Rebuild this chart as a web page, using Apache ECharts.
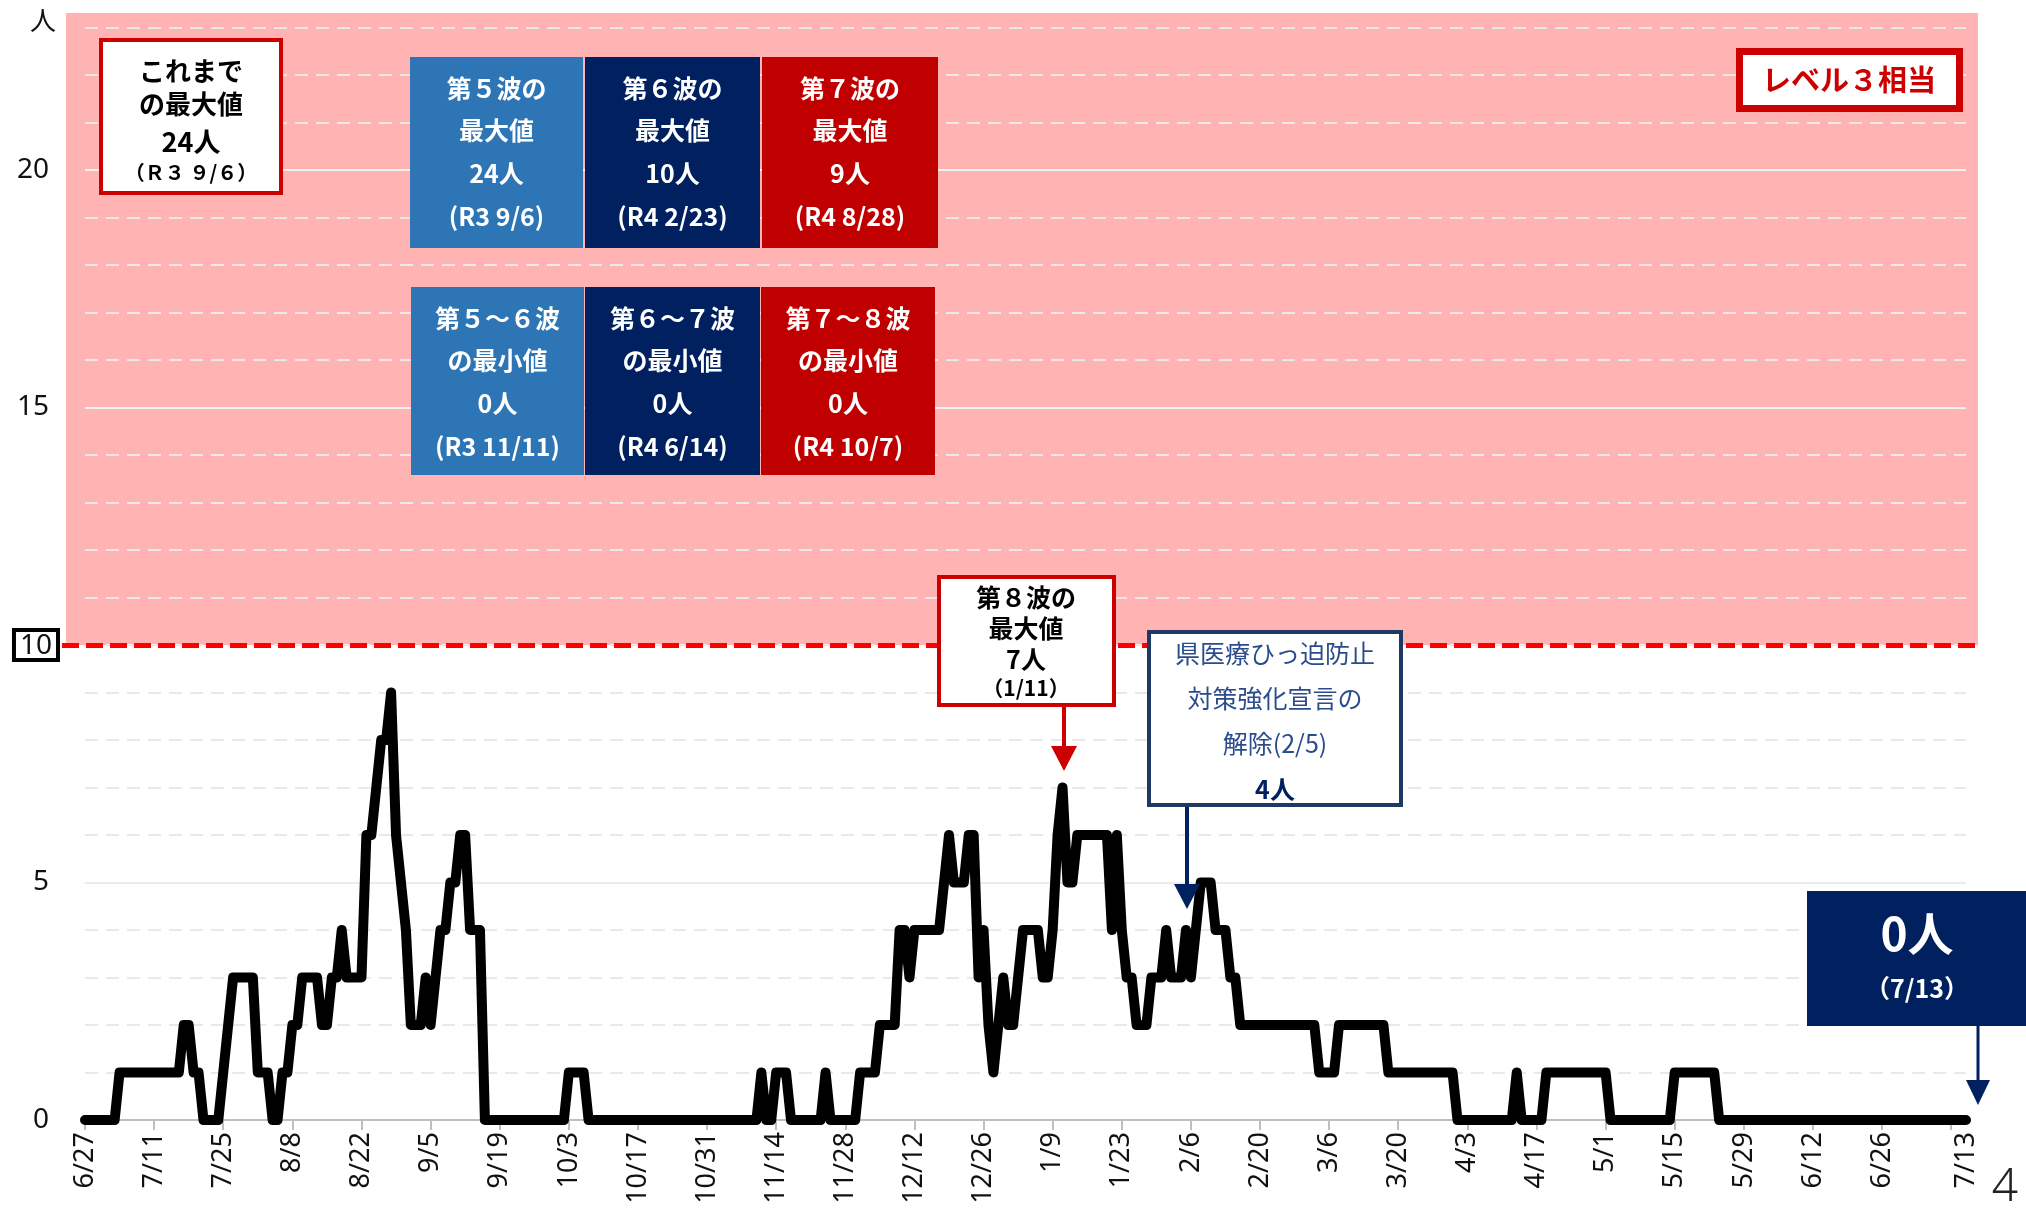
<!DOCTYPE html>
<html>
<head>
<meta charset="utf-8">
<script src="https://cdn.jsdelivr.net/npm/echarts@6/dist/echarts.min.js"></script>
<style>
html,body{margin:0;padding:0;background:#fff;}
#main{width:2026px;height:1220px;}
</style>
</head>
<body>
<div id="main"></div>
<script>
// ---- data ----
const startDate = '2022-06-27';   // first day on the axis
const dayCount = 382;             // 2022-06-27 .. 2023-07-13

// daily values, two weeks per row
const dailyCounts = [
  0,0,0,0,0,0,0,1,1,1,1,1,1,1,
  1,1,1,1,1,1,2,2,1,1,0,0,0,0,
  1,2,3,3,3,3,3,1,1,1,0,0,1,1,
  2,2,3,3,3,3,2,2,3,3,4,3,3,3,
  3,6,6,7,8,8,9,6,5,4,2,2,2,3,
  2,3,4,4,5,5,6,6,4,4,4,0,0,0,
  0,0,0,0,0,0,0,0,0,0,0,0,0,0,
  1,1,1,1,0,0,0,0,0,0,0,0,0,0,
  0,0,0,0,0,0,0,0,0,0,0,0,0,0,
  0,0,0,0,0,0,0,0,0,0,0,1,0,0,
  1,1,1,0,0,0,0,0,0,0,1,0,0,0,
  0,0,0,1,1,1,1,2,2,2,2,4,4,3,
  4,4,4,4,4,4,5,6,5,5,5,6,6,3,
  4,2,1,2,3,2,2,3,4,4,4,4,3,3,
  4,6,7,5,5,6,6,6,6,6,6,6,4,6,
  4,3,3,2,2,2,3,3,3,4,3,3,3,4,
  3,4,5,5,5,4,4,4,3,3,2,2,2,2,
  2,2,2,2,2,2,2,2,2,2,2,2,1,1,
  1,1,2,2,2,2,2,2,2,2,2,2,1,1,
  1,1,1,1,1,1,1,1,1,1,1,1,0,0,
  0,0,0,0,0,0,0,0,0,0,1,0,0,0,
  0,0,1,1,1,1,1,1,1,1,1,1,1,1,
  1,0,0,0,0,0,0,0,0,0,0,0,0,0,
  1,1,1,1,1,1,1,1,1,0,0,0,0,0,
  0,0,0,0,0,0,0,0,0,0,0,0,0,0,
  0,0,0,0,0,0,0,0,0,0,0,0,0,0,
  0,0,0,0,0,0,0,0,0,0,0,0,0,0,
  0,0,0,0
];

const yTickLabels = [0, 5, 10, 15, 20];
const levelLine = 10;
const yMax = 23.3;
const tickEvery = 14;

// categories m/d
const categories = [];
(function(){
  const d0 = new Date(startDate + 'T00:00:00');
  for (let i = 0; i < dayCount; i++) {
    const d = new Date(d0.getTime() + i * 86400000);
    categories.push((d.getMonth() + 1) + '/' + d.getDate());
  }
})();
const lastIdx = categories.length - 1;

const JP = '"Noto Sans CJK JP", "Noto Sans", sans-serif';
const NUM = '"Noto Sans", "Open Sans", sans-serif';

function txt(x, y, s, size, color, weight) {
  return {
    type: 'text', x: x, y: y, z: 50,
    style: {
      text: s, fill: color,
      font: (weight || 'bold') + ' ' + size + 'px ' + JP,
      textAlign: 'center', textVerticalAlign: 'middle',
      align: 'center', verticalAlign: 'middle'
    }
  };
}
function box(x, y, w, h, fill, stroke, lw) {
  return {
    type: 'rect', z: 40,
    shape: { x: x, y: y, width: w, height: h },
    style: { fill: fill, stroke: stroke || null, lineWidth: lw || 0 }
  };
}
function arrow(x, y0, y1, headTop, color, lw, half) {
  return [
    { type: 'line', z: 45, shape: { x1: x, y1: y0, x2: x, y2: headTop + 2 }, style: { stroke: color, lineWidth: lw } },
    { type: 'polygon', z: 45, shape: { points: [[x - half, headTop], [x + half, headTop], [x, y1]] }, style: { fill: color } }
  ];
}

const waveMax = [
  { x: 410, w: 173, color: '#2E75B6', lines: ['第５波の', '最大値', '24人', '(R3 9/6)'] },
  { x: 585, w: 175, color: '#002060', lines: ['第６波の', '最大値', '10人', '(R4 2/23)'] },
  { x: 762, w: 176, color: '#C00000', lines: ['第７波の', '最大値', '9人', '(R4 8/28)'] }
];
const waveMin = [
  { x: 411, w: 173, color: '#2E75B6', lines: ['第５～６波', 'の最小値', '0人', '(R3 11/11)'] },
  { x: 585, w: 175, color: '#002060', lines: ['第６～７波', 'の最小値', '0人', '(R4 6/14)'] },
  { x: 761, w: 174, color: '#C00000', lines: ['第７～８波', 'の最小値', '0人', '(R4 10/7)'] }
];

const g = [];
// unit label and page number
g.push({ type: 'text', x: 43, y: 20, z: 50, style: { text: '人', fill: '#111', font: '26px ' + JP, textAlign: 'center', textVerticalAlign: 'middle', align: 'center', verticalAlign: 'middle' } });
g.push({ type: 'text', x: 2005, y: 1188, z: 50, style: { text: '4', fill: '#222', font: '300 46px ' + NUM, textAlign: 'center', textVerticalAlign: 'middle', align: 'center', verticalAlign: 'middle' } });

// これまでの最大値
g.push(box(101, 40, 180, 153, '#fff', '#cc0000', 4));
g.push(txt(191, 71, 'これまで', 26, '#000'));
g.push(txt(191, 104, 'の最大値', 26, '#000'));
g.push(txt(191, 142, '24人', 27, '#000'));
g.push(txt(191, 172, '（Ｒ３ ９/６）', 20, '#000'));

// wave boxes
waveMax.forEach(b => {
  g.push(box(b.x, 57, b.w, 191, b.color));
  [88, 130, 173, 216].forEach((yy, k) => g.push(txt(b.x + b.w / 2, yy, b.lines[k], 25, '#fff')));
});
waveMin.forEach(b => {
  g.push(box(b.x, 287, b.w, 188, b.color));
  [318, 360, 403, 446].forEach((yy, k) => g.push(txt(b.x + b.w / 2, yy, b.lines[k], 25, '#fff')));
});

// レベル３相当
g.push(box(1739.5, 51.5, 220, 57, '#fff', '#cc0000', 7));
g.push(txt(1849, 80, 'レベル３相当', 29, '#cc0000'));

// 第８波の最大値
g.push(box(939, 577, 175, 128, '#fff', '#cc0000', 4));
g.push(txt(1026, 597, '第８波の', 25, '#000'));
g.push(txt(1026, 628, '最大値', 25, '#000'));
g.push(txt(1026, 659, '7人', 25, '#000'));
g.push(txt(1026, 688, '（1/11）', 21, '#000'));
arrow(1064, 707, 771, 746, '#cc0000', 4, 13).forEach(e => g.push(e));

// 県医療ひっ迫防止対策強化宣言の解除
g.push(box(1149, 632, 252, 173, '#fff', '#1F3864', 4));
g.push(txt(1275, 653, '県医療ひっ迫防止', 25, '#2B4C8C', 'normal'));
g.push(txt(1275, 698, '対策強化宣言の', 25, '#2B4C8C', 'normal'));
g.push(txt(1275, 743, '解除(2/5)', 25, '#2B4C8C', 'normal'));
g.push(txt(1275, 789, '4人', 25, '#002060'));
arrow(1187, 807, 909, 884, '#002060', 4, 13).forEach(e => g.push(e));

// latest value
g.push(box(1807, 891, 230, 135, '#002060'));
g.push(txt(1917, 934, '0人', 46, '#fff'));
g.push(txt(1917, 988, '（7/13）', 25, '#fff'));
arrow(1978, 1026, 1105, 1080, '#002060', 3, 12).forEach(e => g.push(e));

const chart = echarts.init(document.getElementById('main'));
const option = {
  animation: false,
  backgroundColor: '#fff',
  grid: { left: 85, right: 60, top: 13, bottom: 100, containLabel: false },
  xAxis: {
    type: 'category',
    data: categories,
    boundaryGap: false,
    axisLine: { lineStyle: { color: '#bfbfbf', width: 2 } },
    axisTick: { show: true, length: 10, interval: (i) => i % tickEvery === 0, lineStyle: { color: '#bfbfbf', width: 2 } },
    axisLabel: {
      interval: (i) => (i % tickEvery === 0 && i <= lastIdx - 17) || i === lastIdx,
      rotate: 90, fontSize: 27, color: '#111', margin: 12, fontFamily: NUM
    },
    splitLine: { show: false }
  },
  yAxis: {
    type: 'value', min: 0, max: yMax, interval: 1, z: 2,
    axisLine: { show: false }, axisTick: { show: false },
    axisLabel: {
      showMaxLabel: false,
      margin: 27, fontSize: 28, color: '#111', fontFamily: NUM,
      formatter: (v) => {
        if (yTickLabels.indexOf(v) < 0) return '';
        return v === levelLine ? '{b|' + v + '}' : '{n|' + v + '}';
      },
      rich: {
        n: { fontSize: 28, color: '#111', fontFamily: NUM, padding: [0, 9, 0, 0] },
        b: { fontSize: 28, color: '#111', fontFamily: NUM, borderColor: '#000', borderWidth: 4, padding: [2, 6, 0, 6] }
      }
    },
    splitLine: { show: true, showMaxLine: false, showMinLine: false, lineStyle: { color: '#e9e9e9', width: 2, type: [13, 8] } }
  },
  graphic: { elements: g },
  series: [{
    type: 'line',
    data: dailyCounts,
    z: 10,
    showSymbol: false,
    symbol: 'none',
    lineStyle: { color: '#000', width: 10, join: 'round', cap: 'round' },
    markArea: {
      z: 1, silent: true,
      itemStyle: { color: '#ffb3b3' },
      data: [[{ x: 66, yAxis: levelLine }, { x: 1978, yAxis: yMax }]]
    },
    markLine: {
      z: 5, silent: true, symbol: 'none',
      label: { show: false },
      data: [
        { yAxis: 5, lineStyle: { color: '#ececec', width: 2, type: 'solid' } },
        { yAxis: 15, lineStyle: { color: '#f2f2f2', width: 2, type: 'solid' } },
        { yAxis: 20, lineStyle: { color: '#f2f2f2', width: 2, type: 'solid' } },
        [{ x: 62, yAxis: levelLine, lineStyle: { color: '#ff0000', width: 5, type: [17, 7] } }, { x: 1978, yAxis: levelLine }]
      ]
    }
  }]
};
chart.setOption(option);
</script>
</body>
</html>
